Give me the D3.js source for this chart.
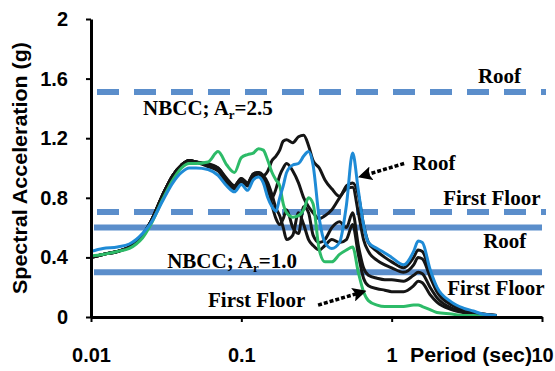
<!DOCTYPE html>
<html>
<head>
<meta charset="utf-8">
<script src="https://cdn.jsdelivr.net/npm/d3@7"></script>
<style>
  body { margin: 0; background: #fff; }
  svg { display: block; }
</style>
</head>
<body>
<div id="chart"></div>
<script>
// periods (sec) at which the spectra were read
var periods = [0.01, 0.012, 0.015, 0.018, 0.02, 0.022, 0.025, 0.03, 0.035, 0.04,
  0.045, 0.05, 0.06, 0.07, 0.08, 0.09, 0.1, 0.11, 0.12, 0.13,
  0.14, 0.15, 0.16, 0.17, 0.18, 0.19, 0.2, 0.22, 0.24, 0.26,
  0.28, 0.3, 0.33, 0.36, 0.4, 0.45, 0.5, 0.55, 0.6, 0.65,
  0.7, 0.8, 0.9, 1.0, 1.2, 1.4, 1.5, 1.6, 1.8, 2.0,
  2.5, 3.0, 3.5, 4.0, 5.0];

// roof (blue)
var roofBlue = [0.44, 0.46, 0.47, 0.49, 0.52, 0.56, 0.63, 0.78, 0.90, 0.97,
  1.00, 1.00, 0.99, 0.95, 0.88, 0.84, 0.89, 0.85, 0.92, 0.94,
  0.90, 0.80, 0.74, 0.71, 0.80, 0.88, 0.97, 1.02, 1.03, 1.08,
  1.11, 1.02, 0.66, 0.50, 0.46, 0.50, 0.75, 1.10, 0.85, 0.62,
  0.50, 0.46, 0.43, 0.40, 0.35, 0.44, 0.51, 0.50, 0.32, 0.20,
  0.10, 0.06, 0.04, 0.02, 0.01];

// roof (black, two records)
var roofBlackA = [0.40, 0.42, 0.44, 0.47, 0.50, 0.55, 0.64, 0.82, 0.95, 1.02,
  1.05, 1.04, 1.02, 1.00, 0.92, 0.88, 0.93, 0.90, 0.96, 0.97,
  0.95, 0.98, 1.05, 1.08, 1.12, 1.18, 1.19, 1.17, 1.21, 1.22,
  1.15, 1.05, 1.00, 0.92, 0.86, 0.81, 0.88, 0.90, 0.82, 0.62,
  0.50, 0.44, 0.40, 0.37, 0.33, 0.40, 0.45, 0.44, 0.30, 0.19,
  0.09, 0.05, 0.03, 0.02, 0.01];
var roofBlackB = [0.40, 0.42, 0.44, 0.47, 0.50, 0.55, 0.64, 0.82, 0.95, 1.02,
  1.05, 1.04, 1.01, 0.98, 0.90, 0.86, 0.91, 0.88, 0.94, 0.96,
  0.92, 0.85, 0.80, 0.86, 0.95, 1.00, 1.03, 0.98, 0.90, 0.80,
  0.74, 0.70, 0.66, 0.68, 0.72, 0.80, 0.86, 0.87, 0.70, 0.52,
  0.44, 0.38, 0.35, 0.33, 0.30, 0.35, 0.40, 0.39, 0.27, 0.17,
  0.08, 0.05, 0.03, 0.02, 0.01];

// first floor (green)
var floorGreen = [0.41, 0.42, 0.44, 0.46, 0.49, 0.53, 0.62, 0.79, 0.92, 1.00,
  1.03, 1.03, 1.04, 1.11, 1.02, 0.97, 1.07, 1.09, 1.10, 1.13,
  1.12, 1.05, 0.97, 0.92, 0.88, 0.76, 0.70, 0.67, 0.68, 0.72,
  0.80, 0.76, 0.45, 0.37, 0.37, 0.42, 0.45, 0.47, 0.30, 0.17,
  0.11, 0.08, 0.07, 0.07, 0.07, 0.08, 0.08, 0.07, 0.05, 0.03,
  0.02, 0.01, 0.01, 0.005, 0];

// first floor (black, two records)
var floorBlackC = [0.40, 0.42, 0.44, 0.47, 0.50, 0.55, 0.64, 0.82, 0.95, 1.02,
  1.05, 1.04, 1.02, 0.99, 0.91, 0.87, 0.92, 0.89, 0.95, 0.96,
  0.93, 0.88, 0.75, 0.66, 0.62, 0.66, 0.72, 0.60, 0.56, 0.74,
  0.70, 0.55, 0.50, 0.52, 0.60, 0.64, 0.60, 0.70, 0.48, 0.33,
  0.28, 0.26, 0.25, 0.25, 0.24, 0.28, 0.30, 0.29, 0.20, 0.13,
  0.06, 0.04, 0.02, 0.01, 0.005];
var floorBlackD = [0.40, 0.42, 0.44, 0.47, 0.50, 0.55, 0.64, 0.82, 0.95, 1.02,
  1.05, 1.04, 1.03, 1.00, 0.93, 0.88, 0.93, 0.90, 0.96, 0.97,
  0.95, 0.90, 0.82, 0.73, 0.68, 0.60, 0.52, 0.55, 0.70, 0.62,
  0.52, 0.48, 0.45, 0.48, 0.52, 0.50, 0.52, 0.62, 0.42, 0.26,
  0.21, 0.19, 0.18, 0.17, 0.17, 0.21, 0.24, 0.23, 0.15, 0.10,
  0.05, 0.03, 0.02, 0.01, 0.005];

// NBCC design spectrum levels: [roof, first floor]
var nbcc25 = [1.51, 0.705];
var nbcc10 = [0.60, 0.30];

var yTicks = [0, 0.4, 0.8, 1.2, 1.6, 2];
var xTicks = [0.01, 0.1, 1, 10];

// annotations (text, period, value)
var annoText = ["Roof", "First Floor", "Roof", "First Floor", "Roof", "First Floor"];
var annoPeriod = [3.75, 2.2, 1.37, 2.34, 4.06, 0.06];
var annoValue = [1.57, 0.75, 0.987, 0.148, 0.463, 0.067];

var width = 555, height = 371;
var margin = { top: 19, right: 13, bottom: 54, left: 91 };

var x = d3.scaleLog().domain([0.01, 10]).range([margin.left, width - margin.right]);
var y = d3.scaleLinear().domain([0, 2]).range([height - margin.bottom, margin.top]);

var svg = d3.select("#chart").append("svg")
  .attr("width", width)
  .attr("height", height);

var sans = "'Liberation Sans', Arial, sans-serif";
var serif = "'Liberation Serif', 'Times New Roman', serif";
var refColor = "#5b8ecb";

// reference lines
var refG = svg.append("g");
nbcc25.forEach(function (v) {
  refG.append("line")
    .attr("x1", x(0.01) + 6).attr("x2", x(10) + 4)
    .attr("y1", y(v)).attr("y2", y(v))
    .attr("stroke", refColor).attr("stroke-width", 6)
    .attr("stroke-dasharray", "22,15");
});
nbcc10.forEach(function (v) {
  refG.append("line")
    .attr("x1", x(0.01) + 3).attr("x2", x(10))
    .attr("y1", y(v)).attr("y2", y(v))
    .attr("stroke", refColor).attr("stroke-width", 6);
});

// spectra
var line = d3.line()
  .x(function (d, i) { return x(periods[i]); })
  .y(function (d) { return y(d); })
  .curve(d3.curveMonotoneX);

var series = [
  { values: floorBlackD, color: "#151515" },
  { values: floorBlackC, color: "#151515" },
  { values: roofBlackB, color: "#151515" },
  { values: roofBlackA, color: "#151515" },
  { values: floorGreen, color: "#2dbb68" },
  { values: roofBlue, color: "#1f8bd6" }
];

svg.append("g").selectAll("path").data(series).enter()
  .append("path")
  .attr("d", function (d) { return line(d.values); })
  .attr("fill", "none")
  .attr("stroke", function (d) { return d.color; })
  .attr("stroke-width", 3)
  .attr("stroke-linejoin", "round");

// axes
var yAxis = d3.axisLeft(y).tickValues(yTicks).tickSize(5).tickSizeOuter(0).tickPadding(18)
  .tickFormat(function (d) { return String(d); });
var xAxis = d3.axisBottom(x).tickValues(xTicks).tickSize(5).tickSizeOuter(0).tickPadding(26)
  .tickFormat(function (d) { return String(d); });

var gy = svg.append("g").attr("transform", "translate(" + x(0.01) + ",0)").call(yAxis);
var gx = svg.append("g").attr("transform", "translate(0," + y(0) + ")").call(xAxis);

[gx, gy].forEach(function (g) {
  g.select(".domain").attr("stroke", "#000").attr("stroke-width", 3);
  g.selectAll(".tick line").attr("stroke", "#000").attr("stroke-width", 2);
  g.selectAll(".tick text")
    .attr("fill", "#000")
    .style("font-family", sans)
    .style("font-size", "20px")
    .style("font-weight", "bold");
});

// axis titles
svg.append("text")
  .attr("transform", "translate(27," + 168 + ") rotate(-90)")
  .attr("text-anchor", "middle")
  .attr("textLength", 252)
  .attr("lengthAdjust", "spacingAndGlyphs")
  .style("font-family", sans).style("font-size", "20px").style("font-weight", "bold")
  .text("Spectral Acceleration (g)");

svg.append("text")
  .attr("x", 410).attr("y", 362)
  .attr("textLength", 122)
  .attr("lengthAdjust", "spacingAndGlyphs")
  .style("font-family", sans).style("font-size", "20px").style("font-weight", "bold")
  .text("Period (sec)");

// NBCC labels
function nbccLabel(tx, ty, val) {
  var t = svg.append("text")
    .attr("x", x(tx)).attr("y", y(ty))
    .style("font-family", serif).style("font-size", "21px").style("font-weight", "bold");
  t.append("tspan").text("NBCC; A");
  t.append("tspan").attr("dy", 4).style("font-size", "13px").text("r");
  t.append("tspan").attr("dy", -4).text("=" + val);
}
nbccLabel(0.0222, 1.356, "2.5");
nbccLabel(0.0321, 0.33, "1.0");

svg.append("g").selectAll("text").data(annoText).enter()
  .append("text")
  .attr("x", function (d, i) { return x(annoPeriod[i]); })
  .attr("y", function (d, i) { return y(annoValue[i]); })
  .style("font-family", serif).style("font-size", "21px").style("font-weight", "bold")
  .text(function (d) { return d; });

// arrows
var defs = svg.append("defs");
defs.append("marker")
  .attr("id", "head")
  .attr("viewBox", "0 0 10 10")
  .attr("refX", 7).attr("refY", 5)
  .attr("markerWidth", 4).attr("markerHeight", 4)
  .attr("markerUnits", "strokeWidth")
  .attr("orient", "auto")
  .append("path").attr("d", "M0,0L10,5L0,10L2,5z").attr("fill", "#000");

var arrows = [
  { from: [1.21, 1.03], to: [0.635, 0.946] },
  { from: [0.324, 0.08], to: [0.64, 0.168] }
];
svg.append("g").selectAll("line").data(arrows).enter()
  .append("line")
  .attr("x1", function (d) { return x(d.from[0]); })
  .attr("y1", function (d) { return y(d.from[1]); })
  .attr("x2", function (d) { return x(d.to[0]); })
  .attr("y2", function (d) { return y(d.to[1]); })
  .attr("stroke", "#000").attr("stroke-width", 3.5)
  .attr("stroke-dasharray", "4,2")
  .attr("marker-end", "url(#head)");
</script>
</body>
</html>
